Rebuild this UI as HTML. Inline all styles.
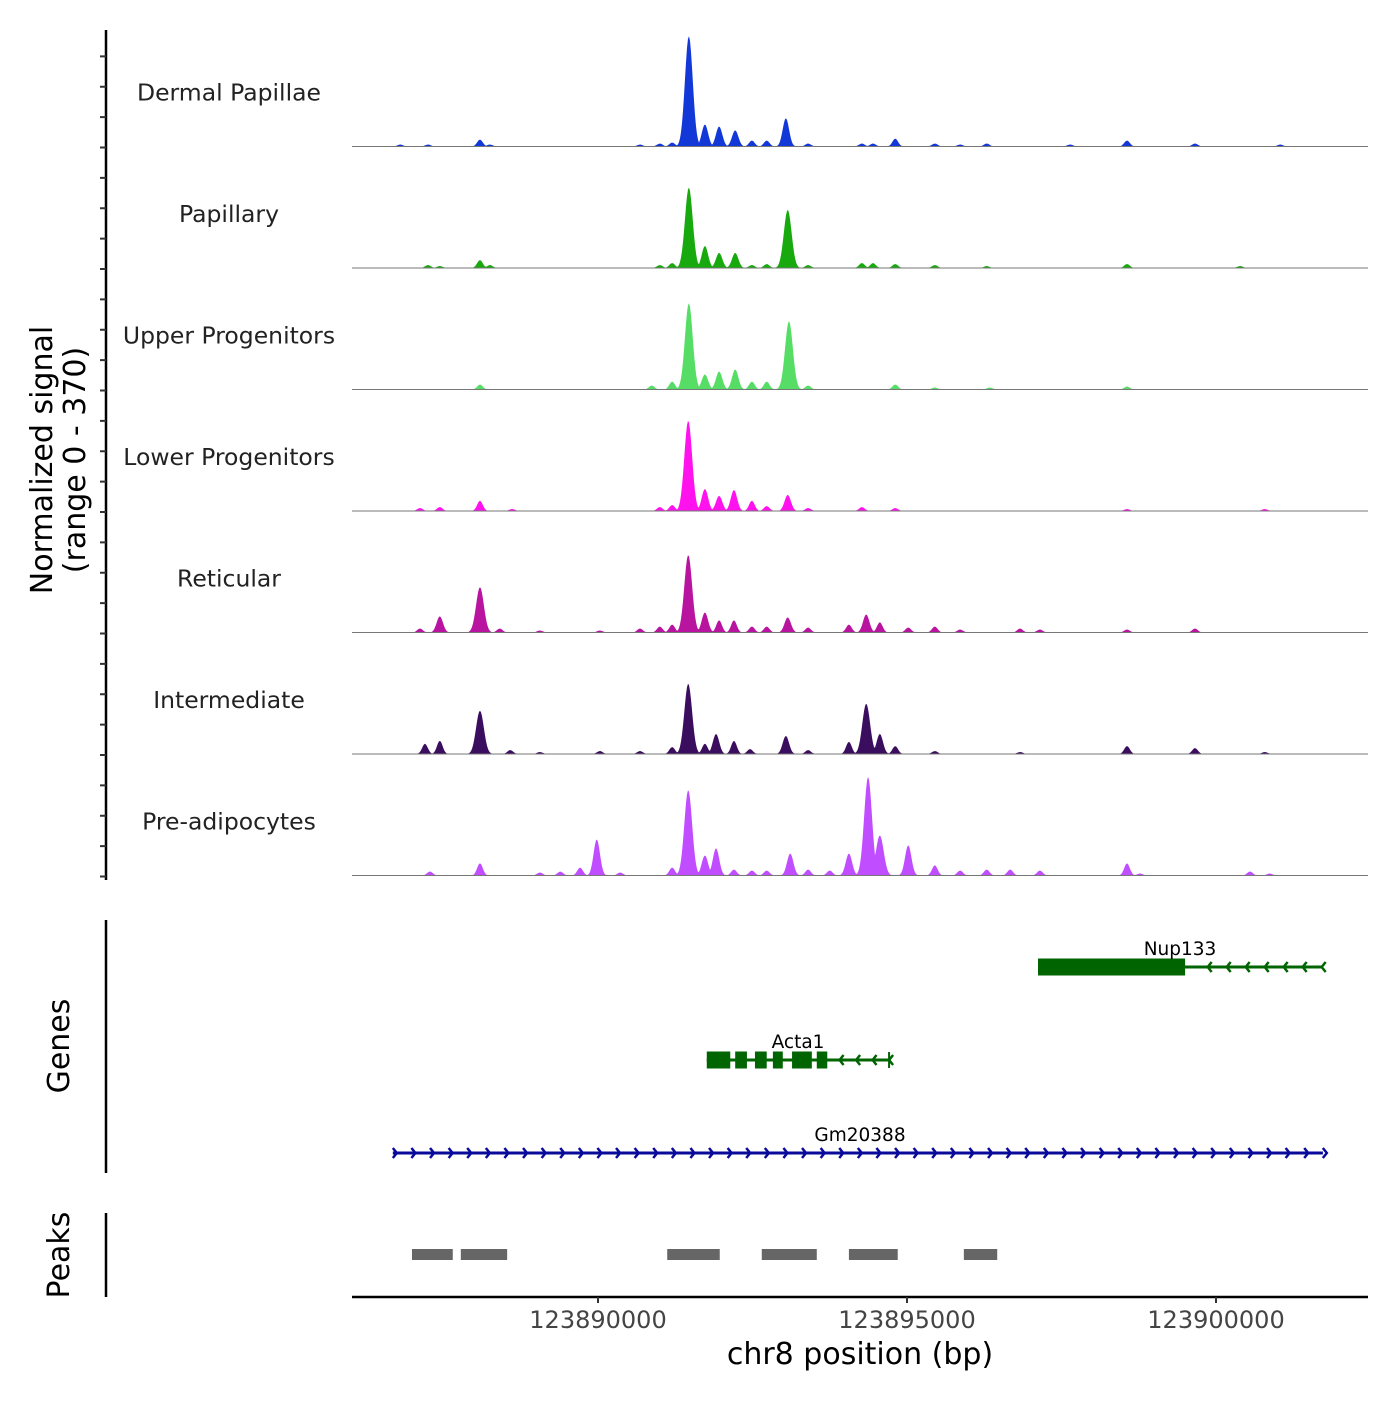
<!DOCTYPE html>
<html><head><meta charset="utf-8"><style>
body{margin:0;background:#fff}
svg text{font-family:"DejaVu Sans","Liberation Sans",sans-serif}
</style></head><body>
<svg id="c" width="1400" height="1400" viewBox="0 0 1400 1400" xmlns="http://www.w3.org/2000/svg"></svg>
<script>
const trackNames=["Dermal Papillae","Papillary","Upper Progenitors","Lower Progenitors","Reticular","Intermediate","Pre-adipocytes"];
const trackColors=["#1338d8","#17a90e","#55dd66","#ff12ee","#b8149f","#3a0d5e","#c04dff"];
const dpPos=[123886800,123887250,123888090,123888250,123890680,123891000,123891200,123891470,123891730,123891960,123892220,123892490,123892730,123893040,123893400,123894270,123894450,123894810,123895450,123895860,123896290,123897640,123898560,123899660,123901040];
const dpVal=[6,6,21,6,6,9,12,336,67,61,49,18,18,86,9,9,9,24,9,6,9,6,18,9,6];
const paPos=[123887250,123887440,123888090,123888250,123891000,123891200,123891470,123891730,123891960,123892220,123892490,123892730,123893070,123893400,123894270,123894450,123894810,123895450,123896290,123898560,123900390];
const paVal=[9,6,24,9,9,15,245,67,46,46,9,12,177,9,15,15,12,9,6,12,6];
const upPos=[123888090,123890870,123891200,123891470,123891730,123891960,123892220,123892490,123892730,123893090,123893400,123894810,123895450,123896340,123898560];
const upVal=[15,12,24,263,46,55,61,24,24,208,12,15,6,6,9];
const loPos=[123887120,123887440,123888090,123888610,123891000,123891200,123891460,123891730,123891960,123892200,123892490,123892730,123893070,123893400,123894270,123894810,123898560,123900790];
const loVal=[9,12,31,6,12,18,275,67,46,64,31,15,49,9,12,9,6,6];
const rePos=[123887120,123887440,123888090,123888410,123889060,123890030,123890680,123891000,123891200,123891460,123891730,123891960,123892200,123892490,123892730,123893070,123893400,123894060,123894340,123894560,123895020,123895450,123895860,123896830,123897150,123898560,123899660];
const reVal=[12,49,138,12,6,6,12,18,24,236,61,37,37,18,18,46,15,24,55,31,15,18,9,12,9,9,12];
const inPos=[123887200,123887440,123888090,123888580,123889060,123890030,123890680,123891200,123891460,123891730,123891910,123892200,123892460,123893040,123893400,123894060,123894340,123894560,123894810,123895450,123896830,123898560,123899660,123900790];
const inVal=[31,40,132,12,6,9,9,21,214,31,61,40,15,55,12,37,153,61,24,9,6,24,18,6];
const prPos=[123887280,123888090,123889060,123889390,123889710,123889980,123890360,123891200,123891460,123891730,123891910,123892200,123892490,123892730,123893110,123893400,123893750,123894060,123894370,123894560,123895020,123895450,123895860,123896290,123896670,123897150,123898560,123898770,123900550,123900870];
const prVal=[12,37,9,12,24,110,9,24,260,61,83,18,15,15,67,18,15,67,300,122,92,31,15,18,18,15,37,6,12,6];
const trackPos=[dpPos,paPos,upPos,loPos,rePos,inPos,prPos];
const trackVal=[dpVal,paVal,upVal,loVal,reVal,inVal,prVal];
const xTicks=[123890000,123895000,123900000];
const geneNames=["Nup133","Acta1","Gm20388"];
const geneStart=[123897120,123891760,123886680];
const geneEnd=[123901710,123894710,123901730];
const geneStrand=[-1,-1,1];
const nupExStart=[123897120];const nupExEnd=[123899500];
const actaExStart=[123891760,123892220,123892540,123892830,123893140,123893540];
const actaExEnd=[123892140,123892410,123892730,123892990,123893460,123893710];
const gmExStart=[];const gmExEnd=[];
const geneExStart=[nupExStart,actaExStart,gmExStart];
const geneExEnd=[nupExEnd,actaExEnd,gmExEnd];
const peakStart=[123886990,123887780,123891120,123892650,123894060,123895920];
const peakEnd=[123887650,123888530,123891970,123893540,123894850,123896460];

const NS="http://www.w3.org/2000/svg";
const svg=document.getElementById('c');
function X(bp){return 598+(bp-123890000)*0.0618;}
const trackTop=25, trackH=121.5, yMax=370;
function mk(tag,attrs,parent){const e=document.createElementNS(NS,tag);for(const k in attrs)e.setAttribute(k,attrs[k]);(parent||svg).appendChild(e);return e;}

const ax=mk('line',{x1:106,y1:30,x2:106,y2:880,stroke:'#000','stroke-width':2.5});


for(let i=1;i<=28;i++){const y=trackTop+i*trackH/4+1;const t=mk('line',{x1:100,y1:y,x2:106,y2:y,stroke:'#333','stroke-width':2});

}

for(let k=0;k<7;k++){
  const base=trackTop+(k+1)*trackH;
  const g=mk('g',{});
  
  
  const pos=trackPos[k],val=trackVal[k];
  let d='M352,'+base;
  for(let px=352;px<=1368;px+=1){
    let h=0;
    for(let i=0;i<pos.length;i++){
      const hv=val[i]/yMax*trackH;
      const s=hv>40?5.5:(hv>15?4.5:4);
      const dx=px-X(pos[i]);
      h=Math.max(h,hv*Math.exp(-(dx*dx)/(s*s)));
    }
    d+=' L'+px+','+(base-h).toFixed(1);
  }
  d+=' L1368,'+base+' Z';
  const p=mk('path',{d:d,fill:trackColors[k]},g);
  
  
  const bl=mk('line',{x1:352,y1:base,x2:1368,y2:base,stroke:'#777','stroke-width':1},g);
  
  
  const lb=mk('text',{x:229,y:base-46,'text-anchor':'middle','font-size':23.5,fill:'#222'},g);
  lb.textContent=trackNames[k];
  
  
}
const yt=mk('text',{transform:'translate(52,460) rotate(-90)','text-anchor':'middle','font-size':30,fill:'#000'});
yt.innerHTML='<tspan x="0" dy="0">Normalized signal</tspan><tspan x="0" dy="33">(range 0 - 370)</tspan>';



const ga=mk('line',{x1:106,y1:920,x2:106,y2:1173,stroke:'#000','stroke-width':2.5});


const gt=mk('text',{transform:'translate(69,1046) rotate(-90)','text-anchor':'middle','font-size':30});
gt.textContent='Genes';


const geneY=[967,1060,1153];
for(let k=0;k<3;k++){
  const col=geneStrand[k]<0?'#006400':'#0a0a9a';
  const g=mk('g',{});
  
  
  const y=geneY[k],x1=X(geneStart[k]),x2=X(geneEnd[k]);
  mk('line',{x1:x1,y1:y,x2:x2,y2:y,stroke:col,'stroke-width':3},g);
  for(let i=0;i<geneExStart[k].length;i++){
    const r=mk('rect',{x:X(geneExStart[k][i]),y:y-8.5,width:X(geneExEnd[k][i])-X(geneExStart[k][i]),height:17,fill:col},g);
    
    
  }
  const exEnd=geneExEnd[k].length?X(geneExEnd[k][geneExEnd[k].length-1]):x1;
  const step=18.6;
  if(geneStrand[k]<0){
    for(let ax2=x2;ax2>exEnd+4;ax2-=(k==0?19:16.5)){
      mk('path',{d:`M${ax2+4},${y-5} L${ax2},${y} L${ax2+4},${y+5}`,stroke:col,'stroke-width':2.5,fill:'none'},g);
    }
    if(k==1) mk('line',{x1:x2,y1:y-8,x2:x2,y2:y+8,stroke:col,'stroke-width':2},g);
  } else {
    for(let ax2=x1+4;ax2<=x2+8;ax2+=step){
      mk('path',{d:`M${ax2-4},${y-5} L${ax2},${y} L${ax2-4},${y+5}`,stroke:col,'stroke-width':2.5,fill:'none'},g);
    }
  }
  const lx=k==0?1180:(k==1?798:860);
  const t=mk('text',{x:lx,y:y-12,'text-anchor':'middle','font-size':18.5,fill:'#000'},g);
  t.textContent=geneNames[k];
}

const pa=mk('line',{x1:106,y1:1213,x2:106,y2:1297,stroke:'#000','stroke-width':2.5});


const pt=mk('text',{transform:'translate(69,1255) rotate(-90)','text-anchor':'middle','font-size':30});
pt.textContent='Peaks';


for(let i=0;i<peakStart.length;i++){
  const r=mk('rect',{x:X(peakStart[i]),y:1249,width:X(peakEnd[i])-X(peakStart[i]),height:11,fill:'#666'});
  
  
}

const xa=mk('line',{x1:352,y1:1297,x2:1368,y2:1297,stroke:'#000','stroke-width':2.5});


for(const v of xTicks){
  const t=mk('line',{x1:X(v),y1:1297,x2:X(v),y2:1303,stroke:'#333','stroke-width':2});
  
  
  const l=mk('text',{x:X(v),y:1328,'text-anchor':'middle','font-size':24,fill:'#444'});
  l.textContent=v;
  
  
}
const xt=mk('text',{x:860,y:1364,'text-anchor':'middle','font-size':30,fill:'#000'});
xt.textContent='chr8 position (bp)';


</script>
</body></html>
